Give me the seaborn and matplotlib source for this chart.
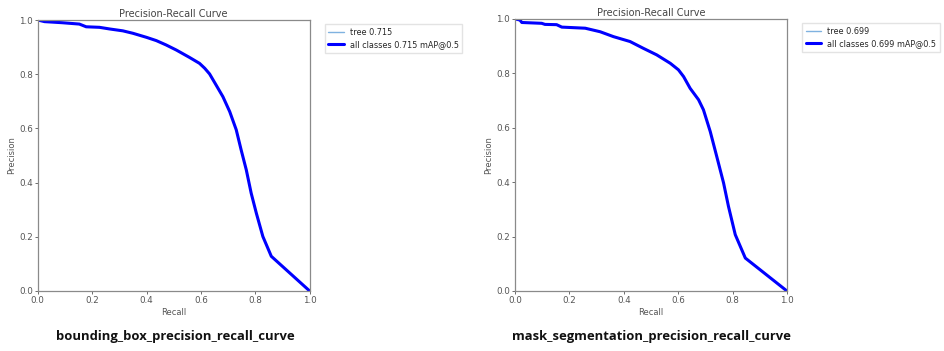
import numpy as np
import pandas as pd
import matplotlib
matplotlib.use("Agg")
import matplotlib.pyplot as plt
import seaborn as sns

# bounding box PR curve
bbox_recall = [0.0, 0.025, 0.09, 0.153, 0.178, 0.227, 0.264, 0.313, 0.35, 0.40, 0.436, 0.472,
               0.51, 0.558, 0.595, 0.614, 0.632, 0.656, 0.681, 0.706, 0.73, 0.748, 0.767,
               0.785, 0.804, 0.828, 0.859, 1.0]
bbox_precision = [1.0, 0.994, 0.99, 0.985, 0.975, 0.973, 0.967, 0.96, 0.951, 0.936, 0.924, 0.908,
                  0.889, 0.862, 0.84, 0.822, 0.801, 0.76, 0.717, 0.662, 0.595, 0.521, 0.447,
                  0.361, 0.287, 0.201, 0.128, 0.0]

# mask segmentation PR curve
mask_recall = [0.0, 0.018, 0.025, 0.098, 0.11, 0.153, 0.172, 0.258, 0.313, 0.362, 0.423, 0.472,
               0.521, 0.571, 0.601, 0.62, 0.644, 0.675, 0.693, 0.718, 0.742, 0.767, 0.785,
               0.81, 0.847, 1.0]
mask_precision = [1.0, 0.996, 0.987, 0.984, 0.98, 0.979, 0.97, 0.966, 0.953, 0.935, 0.917, 0.892,
                  0.868, 0.837, 0.813, 0.788, 0.745, 0.703, 0.666, 0.586, 0.494, 0.397, 0.311,
                  0.207, 0.121, 0.0]

bbox_map = 0.715
mask_map = 0.699
captions = ["bounding_box_precision_recall_curve", "mask_segmentation_precision_recall_curve"]

sns.set_style("ticks")
plt.rcParams['font.family'] = ['DejaVu Sans']

fig = plt.figure(figsize=(9.44, 3.51), dpi=100)
ax_positions = [[0.040, 0.171, 0.288, 0.772], [0.5456, 0.171, 0.288, 0.775]]
curves = [(bbox_recall, bbox_precision, bbox_map), (mask_recall, mask_precision, mask_map)]
caption_x = [0.186, 0.690]

for pos, (rec, prec, m), cap, cx in zip(ax_positions, curves, captions, caption_x):
    ax = fig.add_axes(pos)
    df = pd.DataFrame({"recall": rec, "precision": prec})
    sns.lineplot(data=df, x="recall", y="precision", ax=ax, color="#7fb2e0",
                 linewidth=1, estimator=None, sort=False, label=f"tree {m:.3f}")
    sns.lineplot(data=df, x="recall", y="precision", ax=ax, color="blue",
                 linewidth=2.2, estimator=None, sort=False, label=f"all classes {m:.3f} mAP@0.5")
    ax.set_xlim(0, 1)
    ax.set_ylim(0, 1)
    ax.set_xticks(np.arange(0, 1.01, 0.2))
    ax.set_yticks(np.arange(0, 1.01, 0.2))
    ax.set_title("Precision-Recall Curve", fontsize=7, color="#444444", pad=2)
    ax.set_xlabel("Recall", fontsize=6, color="#555555", labelpad=2)
    ax.set_ylabel("Precision", fontsize=6, color="#555555", labelpad=2)
    ax.tick_params(labelsize=6.3, colors="#555555", length=2, width=0.6, pad=1.5)
    for s in ax.spines.values():
        s.set_visible(True)
        s.set_color("#8a8a8a")
        s.set_linewidth(0.9)
    ax.legend(loc="upper left", bbox_to_anchor=(1.055, 0.985), fontsize=5.9,
              frameon=True, fancybox=False, edgecolor="#dddddd", borderpad=0.45,
              handlelength=1.9, handletextpad=0.7, labelspacing=0.4, borderaxespad=0)
    fig.text(cx, 0.04, cap, ha="center", va="center", fontsize=9.4, fontweight="bold",
             family="Open Sans", color="#111111")

fig.savefig("out.png", dpi=100, facecolor="white")
